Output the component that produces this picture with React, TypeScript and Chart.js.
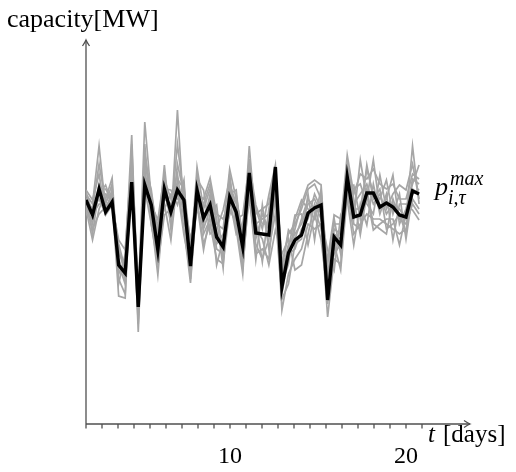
import React, { useEffect, useRef } from "react";
import { Chart, registerables } from "chart.js";

Chart.register(...registerables);

// black reference curve p_{i,tau}^{max}
const pMax = [224, 209, 235, 212, 222, 159, 151, 242, 117, 239, 219, 174, 235, 212, 234, 224, 158, 234, 206, 219, 187, 177, 227, 212, 177, 251, 191, 190, 189, 257, 137, 171, 184, 189, 211, 216, 219, 124, 187, 179, 247, 207, 209, 231, 231, 217, 221, 217, 209, 207, 233, 230];

// gray scenario curves
const scen1 = [230, 220, 278, 215, 230, 170, 160, 250, 125, 302, 225, 180, 240, 200, 314, 210, 170, 240, 200, 230, 190, 180, 240, 220, 180, 278, 200, 205, 210, 240, 150, 180, 190, 200, 220, 225, 210, 150, 190, 185, 250, 220, 230, 240, 220, 230, 210, 220, 215, 205, 278, 220];
const scen2 = [215, 184, 215, 230, 225, 128, 126, 260, 92, 250, 205, 149, 225, 220, 240, 195, 141, 225, 180, 200, 165, 160, 215, 200, 155, 235, 170, 175, 165, 230, 114, 150, 165, 175, 200, 195, 200, 107, 165, 160, 235, 190, 200, 210, 205, 205, 200, 195, 190, 195, 225, 215];
const scen3 = [220, 200, 240, 225, 246, 150, 165, 289, 110, 270, 230, 190, 259, 195, 260, 230, 165, 257, 215, 235, 200, 195, 255, 225, 190, 255, 210, 215, 220, 255, 160, 190, 200, 215, 235, 240, 225, 160, 200, 200, 269, 230, 250, 245, 255, 240, 235, 240, 225, 225, 250, 245];
const scen4 = [225, 215, 225, 210, 235, 165, 145, 245, 130, 245, 215, 200, 215, 230, 225, 240, 150, 230, 225, 246, 210, 205, 225, 190, 200, 245, 215, 195, 229, 259, 140, 160, 205, 224, 215, 205, 235, 135, 205, 170, 245, 205, 264, 225, 264, 215, 225, 249, 200, 215, 240, 259];
const scen5 = [210, 205, 230, 239, 220, 180, 155, 255, 120, 235, 200, 165, 230, 210, 230, 220, 175, 215, 195, 215, 175, 170, 230, 234, 170, 240, 185, 210, 195, 245, 130, 170, 175, 195, 205, 230, 215, 140, 175, 195, 255, 215, 215, 255, 230, 225, 244, 210, 230, 185, 230, 235];
const scen6 = [232, 210, 220, 220, 240, 140, 170, 265, 125, 260, 234, 185, 245, 225, 250, 205, 160, 245, 234, 190, 195, 214, 245, 205, 209, 260, 219, 200, 200, 225, 155, 194, 185, 205, 225, 215, 195, 165, 209, 205, 240, 235, 240, 220, 210, 249, 215, 230, 239, 234, 260, 225];
const scen7 = [218, 195, 210, 217, 228, 160, 140, 240, 100, 255, 210, 170, 220, 184, 245, 235, 180, 235, 205, 225, 159, 185, 220, 215, 160, 230, 164, 219, 175, 210, 125, 140, 180, 185, 230, 184, 230, 120, 180, 154, 230, 200, 195, 235, 200, 195, 190, 225, 205, 200, 220, 210];
const scen8 = [234, 224, 250, 209, 219, 184, 174, 270, 134, 240, 220, 204, 250, 205, 280, 225, 184, 220, 174, 210, 219, 165, 235, 210, 195, 265, 195, 185, 159, 194, 170, 185, 154, 159, 190, 220, 205, 174, 154, 209, 224, 179, 220, 199, 240, 210, 230, 184, 220, 220, 214, 204];
const scen9 = [212, 215, 260, 222, 232, 145, 130, 280, 115, 280, 199, 160, 209, 215, 235, 189, 155, 250, 190, 205, 180, 190, 209, 229, 185, 224, 180, 165, 185, 235, 145, 175, 209, 210, 179, 210, 184, 130, 195, 190, 260, 225, 189, 230, 194, 200, 205, 205, 179, 210, 245, 240];
const scen10 = [226, 190, 235, 235, 224, 175, 150, 248, 105, 265, 225, 195, 235, 234, 219, 244, 145, 225, 220, 240, 205, 156, 250, 195, 150, 250, 205, 162, 215, 250, 165, 165, 195, 220, 239, 244, 239, 145, 170, 180, 235, 239, 205, 259, 225, 235, 195, 200, 210, 190, 235, 230];

const scenarios = [scen1, scen2, scen3, scen4, scen5, scen6, scen7, scen8, scen9, scen10];

// time-axis tick labels (days)
const dayTicks = [10, 20];
const dayRange = [1.82, 23.64];
const stepRange = [0, 58.8];
const capRange = [0, 384];

const SERIF = '"Liberation Serif", "Times New Roman", serif';

function arrowHead(ctx: CanvasRenderingContext2D, x: number, y: number, dir: "up" | "right") {
  ctx.beginPath();
  if (dir === "right") {
    ctx.moveTo(x - 6, y - 3.5);
    ctx.quadraticCurveTo(x - 2, y - 0.8, x, y);
    ctx.quadraticCurveTo(x - 2, y + 0.8, x - 6, y + 3.5);
  } else {
    ctx.moveTo(x - 3.5, y + 6);
    ctx.quadraticCurveTo(x - 0.8, y + 2, x, y);
    ctx.quadraticCurveTo(x + 0.8, y + 2, x + 3.5, y + 6);
  }
  ctx.stroke();
}

const axesPlugin = {
  id: "texAxes",
  beforeDatasetsDraw(chart: any) {
    const { ctx, chartArea } = chart;
    const { left, right, top, bottom } = chartArea;
    ctx.save();
    ctx.strokeStyle = "#505050";
    ctx.lineWidth = 1.3;
    ctx.beginPath();
    ctx.moveTo(left, bottom);
    ctx.lineTo(left, top);
    ctx.moveTo(left, bottom);
    ctx.lineTo(right, bottom);
    ctx.stroke();
    arrowHead(ctx, left, top, "up");
    arrowHead(ctx, right, bottom, "right");
    // minor tick marks
    ctx.beginPath();
    for (let px = left; px <= right - 44; px += 16) {
      ctx.moveTo(px, bottom);
      ctx.lineTo(px, bottom + 4.5);
    }
    ctx.stroke();
    ctx.restore();
  },
  afterDraw(chart: any) {
    const { ctx, chartArea } = chart;
    const { left, right, top, bottom } = chartArea;
    ctx.save();
    ctx.fillStyle = "#000";
    ctx.textBaseline = "alphabetic";
    // tick labels on the day axis
    const dScale = chart.scales.xd;
    ctx.font = `24px ${SERIF}`;
    ctx.textAlign = "center";
    dayTicks.forEach((d) => {
      ctx.fillText(String(d), dScale.getPixelForValue(d), bottom + 39);
    });
    // y-axis title
    ctx.textAlign = "left";
    ctx.font = `26px ${SERIF}`;
    ctx.fillText("capacity[MW]", left - 79, top - 13);
    // x-axis title
    ctx.font = `italic 25px ${SERIF}`;
    ctx.fillText("t", right - 42, bottom + 18);
    ctx.font = `25px ${SERIF}`;
    ctx.fillText("[days]", right - 27, bottom + 18);
    // series label
    const yScale = chart.scales.y;
    const xScale = chart.scales.x;
    const last = pMax.length - 1;
    const lx = xScale.getPixelForValue(last) + 16;
    const ly = yScale.getPixelForValue(pMax[last]) + 1;
    ctx.font = `italic 26px ${SERIF}`;
    ctx.fillText("p", lx, ly);
    ctx.font = `italic 20px ${SERIF}`;
    ctx.fillText("max", lx + 15, ly - 10);
    ctx.fillText("i,τ", lx + 13, ly + 9);
    ctx.restore();
  },
};

export default function App() {
  const ref = useRef<HTMLCanvasElement | null>(null);
  useEffect(() => {
    if (!ref.current) return;
    const toPts = (arr: number[]) => arr.map((v, i) => ({ x: i, y: v }));
    const datasets: any[] = [
      {
        label: "p_max",
        data: toPts(pMax),
        borderColor: "#000000",
        borderWidth: 3.4,
        pointRadius: 0,
        tension: 0,
        xAxisID: "x",
        yAxisID: "y",
      },
      ...scenarios.map((s, k) => ({
        label: `scenario ${k + 1}`,
        data: toPts(s),
        borderColor: "#a6a6a6",
        borderWidth: 1.7,
        pointRadius: 0,
        tension: 0,
        xAxisID: "x",
        yAxisID: "y",
      })),
    ];
    const chart = new Chart(ref.current, {
      type: "line",
      data: { datasets },
      options: {
        animation: false,
        responsive: false,
        maintainAspectRatio: false,
        layout: { padding: { left: 86, right: 46, top: 40, bottom: 48 } },
        plugins: { legend: { display: false }, tooltip: { enabled: false } },
        scales: {
          x: { type: "linear", display: false, min: stepRange[0], max: stepRange[1] },
          xd: { type: "linear", display: false, min: dayRange[0], max: dayRange[1] },
          y: { type: "linear", display: false, min: capRange[0], max: capRange[1] },
        },
      },
      plugins: [axesPlugin],
    });
    return () => chart.destroy();
  }, []);
  return (
    <div style={{ position: "absolute", left: 0, top: 0, width: 516, height: 472, background: "#fff" }}>
      <canvas ref={ref} width={516} height={472} style={{ display: "block" }} />
    </div>
  );
}
